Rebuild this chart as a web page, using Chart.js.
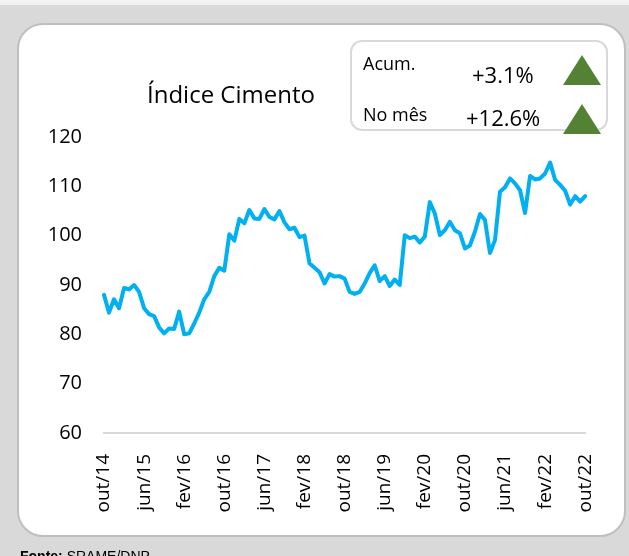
<!DOCTYPE html>
<html>
<head>
<meta charset="utf-8">
<script src="https://cdn.jsdelivr.net/npm/chart.js@4"></script>
<style>
  html, body { margin: 0; padding: 0; }
  body { width: 629px; height: 556px; background: #d9d9d9; position: relative; overflow: hidden; font-family: "Open Sans", sans-serif; }
  #topstrip { position: absolute; left: 0; top: 0; width: 629px; height: 5px; background: #f2f2f2; }
  #card { position: absolute; left: 17px; top: 23px; width: 609px; height: 514px; box-sizing: border-box; background: #fff; border: 2px solid #bfbfbf; border-radius: 26px; }
  #c { position: absolute; left: 0; top: 0; }
  .t { position: absolute; white-space: nowrap; line-height: 1; color: #000; }
  #title { left: 147px; top: 82px; font-size: 24px; }
  #box { position: absolute; left: 350px; top: 40px; width: 258px; height: 91px; box-sizing: border-box; background: #fff; border: 2px solid #d9d9d9; border-radius: 12px; }
  #acum { left: 363px; top: 54px; font-size: 18px; }
  #acumv { left: 472px; top: 63px; font-size: 22px; }
  #mes { left: 363px; top: 105px; font-size: 18px; }
  #mesv { left: 466px; top: 106px; font-size: 22px; }
  #tri { position: absolute; left: 0; top: 0; }
  #foot { left: 20px; top: 549px; font-size: 14px; font-family: "Liberation Sans Narrow", "Liberation Sans", sans-serif; }
</style>
</head>
<body>
<div id="topstrip"></div>
<div id="card"></div>
<canvas id="c" width="629" height="556"></canvas>
<div class="t" id="title">Índice Cimento</div>
<div id="box"></div>
<div class="t" id="acum">Acum.</div>
<div class="t" id="acumv">+3.1%</div>
<div class="t" id="mes">No mês</div>
<div class="t" id="mesv">+12.6%</div>
<svg id="tri" width="629" height="556">
  <polygon points="563,85 601,85 582,55" fill="#548235"/>
  <polygon points="563,134 601,134 582,104" fill="#548235"/>
</svg>
<div class="t" id="foot"><b>Fonte:</b> SRAME/DNP</div>
<script>
const categories = [
  'out/14','nov/14','dez/14',
  'jan/15','fev/15','mar/15','abr/15','mai/15','jun/15','jul/15','ago/15','set/15','out/15','nov/15','dez/15',
  'jan/16','fev/16','mar/16','abr/16','mai/16','jun/16','jul/16','ago/16','set/16','out/16','nov/16','dez/16',
  'jan/17','fev/17','mar/17','abr/17','mai/17','jun/17','jul/17','ago/17','set/17','out/17','nov/17','dez/17',
  'jan/18','fev/18','mar/18','abr/18','mai/18','jun/18','jul/18','ago/18','set/18','out/18','nov/18','dez/18',
  'jan/19','fev/19','mar/19','abr/19','mai/19','jun/19','jul/19','ago/19','set/19','out/19','nov/19','dez/19',
  'jan/20','fev/20','mar/20','abr/20','mai/20','jun/20','jul/20','ago/20','set/20','out/20','nov/20','dez/20',
  'jan/21','fev/21','mar/21','abr/21','mai/21','jun/21','jul/21','ago/21','set/21','out/21','nov/21','dez/21',
  'jan/22','fev/22','mar/22','abr/22','mai/22','jun/22','jul/22','ago/22','set/22','out/22'
];
const indiceCimento = [
  88.0, 84.4, 87.1, 85.3, 89.4, 89.1, 90.0, 88.6, 85.3, 84.1, 83.7, 81.4, 80.2, 81.2, 81.1, 84.6, 80.0, 80.2, 82.2, 84.4, 87.1, 88.6, 91.8, 93.5,
  92.9, 100.3, 99.0, 103.4, 102.5, 105.2, 103.5, 103.4, 105.4, 103.8, 103.3, 105.0, 102.7, 101.3, 101.6, 99.7, 100.0, 94.4, 93.5, 92.6, 90.3, 92.2, 91.7, 91.8, 91.3,
  88.6, 88.2, 88.6, 90.3, 92.4, 94.0, 90.8, 91.8, 89.8, 91.1, 90.0, 100.1, 99.5, 99.8, 98.6, 99.8, 106.8, 104.5, 100.1, 101.1, 102.8, 101.1, 100.5, 97.4,
  98.0, 100.8, 104.4, 103.2, 96.5, 99.1, 108.9, 109.8, 111.6, 110.6, 109.2, 104.6, 112.1, 111.4, 111.6, 112.6, 114.8, 111.3, 110.3, 109.1, 106.3, 108.0, 106.9, 108.0
];
const tickLabels = ['out/14','jun/15','fev/16','out/16','jun/17','fev/18','out/18','jun/19','fev/20','out/20','jun/21','fev/22','out/22'];
const yTicks = [60, 70, 80, 90, 100, 110, 120];

new Chart(document.getElementById('c'), {
  type: 'line',
  data: {
    labels: categories,
    datasets: [{
      label: 'Índice Cimento',
      data: indiceCimento,
      borderColor: '#00b0f0',
      borderWidth: 4,
      pointRadius: 0,
      tension: 0,
      borderJoinStyle: 'round',
      borderCapStyle: 'round',
      fill: false
    }]
  },
  options: {
    responsive: false,
    devicePixelRatio: 1,
    animation: false,
    layout: { padding: { left: 24, right: 39, top: 137, bottom: 23 } },
    plugins: { legend: { display: false }, title: { display: false }, tooltip: { enabled: false } },
    scales: {
      x: {
        type: 'category',
        offset: false,
        grid: { display: false, drawTicks: false },
        border: { display: true, color: '#d9d9d9', width: 2 },
        afterFit: s => { s.height = 100; },
        ticks: {
          autoSkip: false,
          maxRotation: 90,
          minRotation: 90,
          padding: 21,
          color: '#000',
          font: { family: 'Open Sans', size: 19 },
          callback: (v, i) => tickLabels.includes(categories[i]) ? categories[i] : ''
        }
      },
      y: {
        min: yTicks[0],
        max: yTicks[yTicks.length - 1],
        grid: { display: false, drawTicks: false },
        border: { display: false },
        afterFit: s => { s.width = 80; },
        afterBuildTicks: s => { s.ticks = yTicks.map(v => ({ value: v })); },
        ticks: {
          padding: 22,
          color: '#000',
          font: { family: 'Open Sans', size: 20 }
        }
      }
    }
  }
});
</script>
</body>
</html>
